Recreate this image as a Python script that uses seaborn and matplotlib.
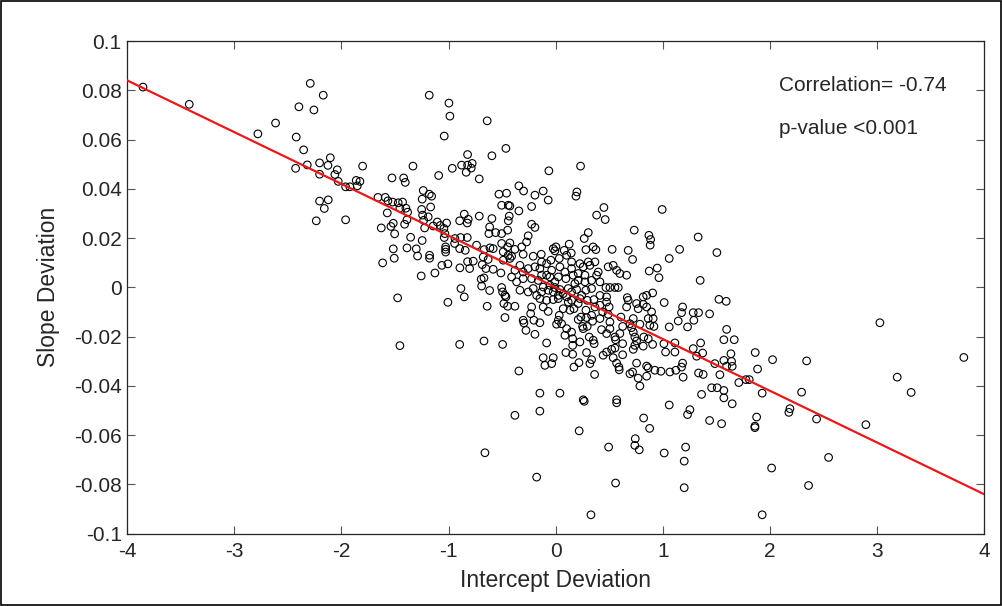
import matplotlib
matplotlib.use("Agg")
import matplotlib.pyplot as plt
import matplotlib.patches as mpatches
import seaborn as sns
import pandas as pd

# ---------------- data ----------------
intercept_dev = [
    -3.853, -3.421, -2.780, -2.615,
    -2.291, -2.170, -2.397, -2.257, -2.422, -2.353, -2.428, -2.319, -2.204, -2.104, -2.126, -2.204, -2.039, -2.061, -2.030, -1.802,
    -1.961, -1.921, -1.862, -1.827, -1.852, -2.204, -2.123, -2.160, -1.528, -1.419, -1.404, -1.332, -1.659, -1.591, -1.566, -1.522,
    -1.470, -1.429, -1.398, -1.454, -1.236, -1.180, -1.158, -1.246, -1.167, -1.251, -1.180, -0.996, -0.987, -1.040, -1.092, -0.965,
    -0.822, -0.878, -0.822, -0.779, -0.788, -0.835, -0.713, -0.639, -0.595, -0.464, -0.529, -0.458, -0.504, -0.442,
    -0.063, 0.233, -0.343, -0.299, -0.193, -0.116, -0.069, 0.199, 0.190, -0.427, -0.224, 0.451, 0.995, -0.343,
    -2.235, -1.961, -1.572, -1.628, -1.538, -1.516, -1.503, -1.410, -1.388, -1.382, -1.516, -1.507, -1.615, -1.354, -1.388, -1.301,
    -1.289, -1.246, -1.255, -1.177, -1.177, -1.475, -1.454, -1.242, -1.190, -1.232, -1.223, -1.143, -1.105, -1.077, -1.018, -1.043,
    -1.034, -1.040, -1.027, -1.027, -1.027, -1.127, -1.062, -1.006, -1.006, -0.940, -0.943, -0.887, -0.896, -0.844, -0.825, -0.896,
    -0.853, -0.825, -0.816, -0.713, -0.595, -0.616, -0.623, -0.560, -0.504, -0.448, -0.442, -0.738, -0.667, -0.613, -0.583, -0.504,
    -0.676, -0.630, -0.685, -0.651, -0.822, -0.769, -0.803, -0.894, -0.583, -0.511, -0.489, -0.442, -0.489, -0.695, -0.669, -0.691,
    -0.616, -0.884, -0.853, -0.639, -0.504, -0.495, -0.464, -0.483, -0.448, -0.473, -0.896, -0.669, -0.495,
    -0.433, 0.383, 0.463, -0.224, -0.193, -0.256, 0.305, 0.267, 0.734, 0.871, 0.887, 0.883, 1.331, -0.271, -0.427, -0.448,
    -0.317, -0.380, -0.411, -0.303, -0.209, -0.134, -0.022, 0.003, -0.007, 0.080, 0.127, 0.146, 0.283, 0.351, 0.376, 0.528,
    0.678, 0.719, 1.158, 1.506, 1.061, 0.874, 0.949, 0.965, 1.350, 1.525, 1.593, 1.014, 1.186, 1.176, 1.285, 1.335,
    1.438, 1.145, 1.291, 1.232, 1.061, 1.597, 1.571, 1.354, 1.285, 1.373, 1.317, 1.114, 1.114, 1.011, 1.027, 1.186,
    1.176, 1.123, 1.067, 0.983, 1.191, 1.335, 1.378, 1.534, 1.487, 1.571, 1.597, 1.457, 1.509, 1.363, 1.571,
    -0.427, -0.364, -0.303, -0.224, -0.333, -0.256, -0.209, -0.473, -0.380, -0.224, -0.233, -0.303, -0.296, -0.203, -0.147, -0.277,
    -0.193, -0.343, -0.147, 0.040, -0.084, -0.116, -0.100, -0.037, -0.022, 0.096, 0.159, 0.171, 0.218, 0.289, 0.320, 0.336,
    0.364, 0.444, 0.476, 0.523, 0.554, 0.538, 0.570, 0.591, 0.594, 0.626, 0.694, 0.719, 0.756, 0.850, 0.865, 0.771,
    0.787, 0.850, 0.927, 0.258, 0.570, 0.149, 0.159, 0.159, 0.227, 0.258, 0.252, 0.295, 0.314, 0.351, 0.360, 0.429,
    0.507, 0.554, 0.560, 0.626, 0.694, 0.709, 0.725, 0.740, 0.756, 0.740, 0.725, 0.818, 0.824, 0.865, 0.906, 0.918,
    0.880, 0.865, 0.911, 0.896, 0.850, 0.818, 0.850, 0.906, 0.756, 0.771, 0.678, 0.663, 0.669, 0.610, 0.626, 0.476,
    0.500, 0.491, 0.507, 0.439, 0.414, 0.414, 0.367, 0.336, 0.345, 0.283, 0.289, 0.236, 0.211, 0.171, 0.134, 0.211,
    0.227, 0.295, 0.358, 0.414, 0.476, 0.071, 0.034, 0.056, 0.009, 0.025, -0.069, -0.116, -0.084, -0.022, 0.025, 0.103,
    0.149, 0.118, -0.147, -0.177, -0.131, -0.069, -0.022, 0.025, 0.071, 0.040, -0.007, -0.053, -0.116, 0.118, 0.149, 0.196,
    0.243, 0.283, 0.336, 0.180, 0.211, 0.274, 0.336, 0.414, 0.507, 0.554, 0.470, 0.164, 0.211, 0.149, 0.096, 0.087,
    0.040, 0.025, -0.007, -0.053, -0.037, -0.084, -0.131, -0.162, -0.147, -0.193, -0.256, -0.303, -0.333, -0.380, -0.411, -0.131,
    0.227, 0.258, 0.305, 0.367, 0.320, 0.398, 0.383, 0.274, 0.491, 0.538, 0.570, 0.600, 0.663, 0.585, 0.149, 0.103,
    0.034, -0.044, -0.084, 0.818, 0.725, 0.787, 0.600, 0.476, 0.103, 0.087,
    1.668, 1.637, 1.643, 1.649, 1.864, 1.886, 2.026, 2.344, 1.711, 1.777, 1.808, 1.929, 2.297, 3.028, 3.190, 3.320,
    3.812, 1.571,
    1.649, 1.550, 1.877, 1.861, 1.861, 2.188, 2.178, 2.437, 2.897, 2.017, 2.549, 2.362, 1.929,
    -0.380, -0.147, 0.267, 0.570, 0.220, 0.495, 0.822, 0.878, 0.744, 0.740, 0.781, 1.061, 1.232, 1.254, 1.438, 1.014,
    1.214, 1.201, 1.201, -0.177, 0.560, 0.330,
    -0.660,
]

slope_dev = [
    0.0813, 0.0743, 0.0623, 0.0667,
    0.0828, 0.0780, 0.0733, 0.0720, 0.0610, 0.0558, 0.0483, 0.0497, 0.0505, 0.0526, 0.0495, 0.0459, 0.0477, 0.0458, 0.0430, 0.0492,
    0.0408, 0.0408, 0.0434, 0.0430, 0.0412, 0.0350, 0.0355, 0.0320, 0.0444, 0.0444, 0.0426, 0.0492, 0.0365, 0.0365, 0.0351, 0.0346,
    0.0343, 0.0346, 0.0321, 0.0322, 0.0393, 0.0378, 0.0370, 0.0358, 0.0326, 0.0316, 0.0780, 0.0748, 0.0695, 0.0614, 0.0454, 0.0483,
    0.0539, 0.0496, 0.0496, 0.0503, 0.0484, 0.0467, 0.0440, 0.0676, 0.0534, 0.0564, 0.0378, 0.0382, 0.0333, 0.0333,
    0.0473, 0.0492, 0.0412, 0.0391, 0.0374, 0.0391, 0.0354, 0.0387, 0.0370, 0.0330, 0.0328, 0.0324, 0.0316, 0.0310,
    0.0270, 0.0274, 0.0302, 0.0241, 0.0247, 0.0260, 0.0217, 0.0256, 0.0274, 0.0305, 0.0156, 0.0118, 0.0099, 0.0203, 0.0160, 0.0156,
    0.0127, 0.0190, 0.0046, 0.0130, 0.0118, -0.0043, -0.0237, 0.0293, 0.0286, 0.0272, 0.0241, 0.0249, 0.0265, 0.0251, 0.0261, 0.0239,
    0.0218, 0.0202, 0.0164, 0.0154, 0.0143, 0.0058, 0.0089, 0.0095, -0.0061, 0.0198, 0.0178, 0.0202, 0.0157, 0.0150, 0.0202, 0.0270,
    0.0297, 0.0261, 0.0276, 0.0289, 0.0279, 0.0245, 0.0218, 0.0222, 0.0218, 0.0232, 0.0270, 0.0171, 0.0153, 0.0160, 0.0157, 0.0178,
    0.0123, 0.0113, 0.0092, 0.0076, 0.0104, 0.0106, 0.0076, 0.0079, 0.0073, 0.0058, 0.0144, 0.0130, 0.0110, 0.0033, 0.0038, 0.0005,
    -0.0013, -0.0005, -0.0039, -0.0077, -0.0001, -0.0019, -0.0039, -0.0066, -0.0077, -0.0123, -0.0232, -0.0218, -0.0232,
    0.0289, 0.0293, 0.0275, 0.0256, 0.0243, 0.0209, 0.0222, 0.0198, 0.0232, 0.0211, 0.0194, 0.0171, 0.0204, 0.0184, 0.0180, 0.0164,
    0.0164, 0.0154, 0.0126, 0.0134, 0.0126, 0.0134, 0.0157, 0.0164, 0.0148, 0.0150, 0.0175, 0.0139, 0.0153, 0.0164, 0.0153, 0.0154,
    0.0150, 0.0113, 0.0154, 0.0141, 0.0117, 0.0066, 0.0078, 0.0039, 0.0028, -0.0049, -0.0057, -0.0062, -0.0080, -0.0103, -0.0103, -0.0103,
    -0.0108, -0.0137, -0.0134, -0.0161, -0.0161, -0.0171, -0.0213, -0.0226, -0.0249, -0.0267, -0.0280, -0.0226, -0.0263, -0.0229, -0.0263, -0.0308,
    -0.0324, -0.0337, -0.0344, -0.0341, -0.0365, -0.0348, -0.0354, -0.0355, -0.0310, -0.0297, -0.0320, -0.0408, -0.0408, -0.0435, -0.0419,
    0.0117, 0.0022, 0.0035, 0.0035, -0.0012, -0.0019, -0.0005, -0.0033, -0.0077, -0.0080, -0.0107, -0.0134, -0.0145, -0.0134, -0.0144, -0.0175,
    -0.0191, -0.0340, -0.0430, -0.0430, -0.0226, -0.0286, -0.0317, -0.0310, -0.0286, -0.0265, -0.0272, -0.0324, -0.0306, -0.0265, -0.0310, -0.0294,
    -0.0354, -0.0276, -0.0263, -0.0252, -0.0247, -0.0286, -0.0308, -0.0324, -0.0335, -0.0274, -0.0351, -0.0344, -0.0308, -0.0320, -0.0327, -0.0369,
    -0.0401, -0.0361, -0.0337, -0.0457, -0.0457, -0.0182, -0.0209, -0.0236, -0.0222, -0.0168, -0.0159, -0.0159, -0.0202, -0.0215, -0.0229, -0.0172,
    -0.0168, -0.0202, -0.0213, -0.0229, -0.0148, -0.0164, -0.0182, -0.0202, -0.0218, -0.0236, -0.0252, -0.0239, -0.0202, -0.0209, -0.0232, -0.0159,
    -0.0154, -0.0127, -0.0127, -0.0100, -0.0080, -0.0069, -0.0033, -0.0023, -0.0066, -0.0087, -0.0053, -0.0080, -0.0042, -0.0121, -0.0159, -0.0060,
    -0.0080, -0.0110, -0.0141, -0.0100, -0.0127, -0.0073, -0.0080, -0.0114, -0.0138, -0.0093, -0.0123, -0.0121, -0.0131, -0.0087, -0.0093, -0.0066,
    -0.0046, -0.0053, -0.0050, -0.0033, -0.0039, -0.0087, -0.0114, -0.0148, -0.0150, -0.0134, -0.0098, -0.0080, -0.0053, -0.0050, -0.0046, -0.0039,
    -0.0053, -0.0060, -0.0046, -0.0033, -0.0019, -0.0012, -0.0019, -0.0033, -0.0026, -0.0009, -0.0001, 0.0008, 0.0001, -0.0005, -0.0019, -0.0009,
    -0.0033, -0.0012, -0.0005, 0.0015, 0.0028, 0.0022, 0.0028, 0.0022, -0.0001, -0.0001, -0.0001, 0.0049, 0.0056, 0.0076, 0.0035, 0.0062,
    0.0083, 0.0042, 0.0022, 0.0042, 0.0069, 0.0049, 0.0049, 0.0028, 0.0076, 0.0083, 0.0076, 0.0062, 0.0089, 0.0069, 0.0042, 0.0103,
    0.0096, 0.0083, 0.0103, 0.0103, 0.0089, 0.0062, 0.0049, 0.0049, 0.0083, 0.0089, 0.0069, 0.0056, 0.0049, -0.0001, 0.0103, 0.0130,
    0.0117, 0.0110, 0.0096, -0.0039, -0.0127, -0.0150, -0.0188, -0.0188, -0.0168, -0.0195,
    -0.0213, -0.0270, -0.0301, -0.0321, -0.0265, -0.0332, -0.0294, -0.0299, -0.0387, -0.0375, -0.0375, -0.0430, -0.0426, -0.0144, -0.0365, -0.0427,
    -0.0285, -0.0449,
    -0.0473, -0.0554, -0.0527, -0.0564, -0.0570, -0.0493, -0.0508, -0.0535, -0.0558, -0.0734, -0.0691, -0.0805, -0.0924,
    -0.0520, -0.0503, -0.0463, -0.0469, -0.0583, -0.0649, -0.0531, -0.0573, -0.0615, -0.0642, -0.0660, -0.0478, -0.0517, -0.0497, -0.0541, -0.0673,
    -0.0649, -0.0706, -0.0814, -0.0771, -0.0795, -0.0924,
    -0.0672,
]

# fitted regression line (as drawn in the reference)
fit_slope = -0.021
fit_intercept = 0.0
fit_x = [-4, 4]

x_ticks = [-4, -3, -2, -1, 0, 1, 2, 3, 4]
x_tick_labels = ["-4", "-3", "-2", "-1", "0", "1", "2", "3", "4"]
y_ticks = [-0.1, -0.08, -0.06, -0.04, -0.02, 0, 0.02, 0.04, 0.06, 0.08, 0.1]
y_tick_labels = ["-0.1", "-0.08", "-0.06", "-0.04", "-0.02", "0", "0.02", "0.04", "0.06", "0.08", "0.1"]

x_label = "Intercept Deviation"
y_label = "Slope Deviation"
annotations = ["Correlation= -0.74", "p-value <0.001"]

# ---------------- plotting ----------------
n = min(len(intercept_dev), len(slope_dev))
df = pd.DataFrame({"x": intercept_dev[:n], "y": slope_dev[:n]})
line_df = pd.DataFrame({"x": fit_x, "y": [fit_intercept + fit_slope * v for v in fit_x]})

sns.set_theme(style="white")
plt.rcParams["font.family"] = ["Liberation Sans", "DejaVu Sans"]
plt.rcParams["axes.unicode_minus"] = False

fig = plt.figure(figsize=(10.02, 6.06), dpi=100)
ax = fig.add_axes([0.127, 0.1196, 0.855, 0.8127])

sns.scatterplot(data=df, x="x", y="y", ax=ax, marker="o", s=30,
                facecolor="none", edgecolor="black", linewidth=0.8, zorder=2)
sns.lineplot(data=line_df, x="x", y="y", ax=ax, color="#e8191b", linewidth=1.6, zorder=3)

ax.set_xlim(-4, 4)
ax.set_ylim(-0.1, 0.1)
ax.set_xticks(x_ticks)
ax.set_xticklabels(x_tick_labels)
ax.set_yticks(y_ticks)
ax.set_yticklabels(y_tick_labels)

dark = "#262626"
for sp in ax.spines.values():
    sp.set_visible(True)
    sp.set_color(dark)
    sp.set_linewidth(0.9)
ax.tick_params(axis="both", which="major", direction="in", length=6, width=0.8,
               color="#555555", labelsize=15, labelcolor=dark,
               top=True, right=True, bottom=True, left=True)
ax.tick_params(axis="x", pad=6)
ax.tick_params(axis="y", pad=4)

ax.set_xlabel(x_label, fontsize=16.5, color=dark, labelpad=6)
ax.set_ylabel(y_label, fontsize=16.5, color=dark, labelpad=10)

ax.text(2.088, 0.0821, annotations[0], fontsize=15, color=dark, va="center", ha="left")
ax.text(2.088, 0.0646, annotations[1], fontsize=15, color=dark, va="center", ha="left")

# thin frame around the whole figure
fig.patches.append(mpatches.Rectangle((0.001, 0.001), 0.998, 0.997, transform=fig.transFigure,
                                      fill=False, edgecolor="black", linewidth=1.2))

fig.savefig("out.png", dpi=100)
